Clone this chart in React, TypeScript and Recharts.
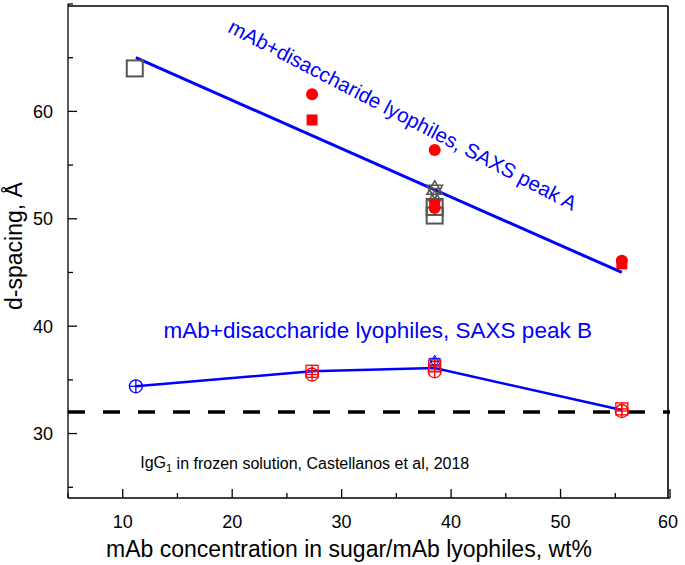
import React from "react";
import {
  ComposedChart,
  XAxis,
  YAxis,
  Scatter,
  ReferenceLine,
  ReferenceDot,
} from "recharts";

// ---- axis ticks ----
const xTicks = [5, 10, 15, 20, 25, 30, 35, 40, 45, 50, 55, 60];
const xTickLabels = [10, 20, 30, 40, 50, 60];
const yTicks = [25, 30, 35, 40, 45, 50, 55, 60, 65, 70];
const yTickLabels = [30, 40, 50, 60];
const xDomain = [5, 60];
const yDomain = [24, 70];

// ---- SAXS peak A ----
const peakAFitX = [11.2, 55.6];
const peakAFitY = [65.0, 45.0];
const openSquareX = [11.1, 38.5, 38.5];
const openSquareY = [64.0, 51.1, 50.3];
const redCircleX = [27.3, 38.5, 38.5, 55.6];
const redCircleY = [61.6, 56.4, 51.0, 46.1];
const redSquareX = [27.3, 38.5, 55.6];
const redSquareY = [59.2, 51.3, 45.8];
const grayStarX = [38.5];
const grayStarY = [52.7];
const grayTriUpX = [38.5];
const grayTriUpY = [52.0];
const grayTriDownX = [38.5];
const grayTriDownY = [52.5];

// ---- SAXS peak B ----
const peakBLineX = [11.2, 27.3, 38.5, 55.6];
const peakBLineY = [34.4, 35.8, 36.1, 32.2];
const blueCirclePlusX = [11.2];
const blueCirclePlusY = [34.4];
const blueStarX = [38.5];
const blueStarY = [36.7];
const redSquarePlusX = [27.3, 38.5, 55.6];
const redSquarePlusY = [35.8, 36.3, 32.3];
const redCirclePlusX = [27.3, 38.5, 55.6];
const redCirclePlusY = [35.5, 35.8, 32.1];

// ---- frozen solution reference ----
const frozenY = 32;

const zip = (xs: number[], ys: number[]) => xs.map((x, i) => ({ x, y: ys[i] }));

// chart layout
const W = 685;
const H = 565;
const M = { top: 4, right: 15, bottom: 0, left: 0 };
const Y_AXIS_W = 68;
const X_AXIS_H = 67;
const PLOT_W = W - M.left - M.right - Y_AXIS_W;
const PLOT_H = H - M.top - M.bottom - X_AXIS_H;
const FRAME_INSET = 2;

const FONT = "'Liberation Sans', Arial, sans-serif";
const RED = "#ff0000";
const BLUE = "#0000ff";
const GRAY = "#555555";

const Nothing = () => <g />;

const RedCircle = (p: any) => <circle cx={p.cx} cy={p.cy} r={6} fill={RED} />;
const RedSquare = (p: any) => (
  <rect x={p.cx - 5.5} y={p.cy - 5.5} width={11} height={11} fill={RED} />
);
const OpenSquare = (p: any) => (
  <rect x={p.cx - 8} y={p.cy - 8} width={16} height={16} fill="none" stroke={GRAY} strokeWidth={2} />
);
const triPts = (cx: number, cy: number, r: number, up: boolean) => {
  const s = up ? -1 : 1;
  return [
    [cx, cy + s * r],
    [cx - r * 0.866, cy - s * r * 0.5],
    [cx + r * 0.866, cy - s * r * 0.5],
  ]
    .map((q) => q.join(","))
    .join(" ");
};
const GrayStar = (p: any) => (
  <g fill="none" stroke={GRAY} strokeWidth={1.5}>
    <polygon points={triPts(p.cx, p.cy, 9, true)} />
    <polygon points={triPts(p.cx, p.cy, 9, false)} />
  </g>
);
const GrayTriUp = (p: any) => (
  <polygon points={triPts(p.cx, p.cy, 7, true)} fill="none" stroke={GRAY} strokeWidth={1.5} />
);
const GrayTriDown = (p: any) => (
  <polygon points={triPts(p.cx, p.cy, 7, false)} fill="none" stroke={GRAY} strokeWidth={1.5} />
);
const CirclePlus = (color: string) => (p: any) => (
  <g fill="none" stroke={color} strokeWidth={1.3}>
    <circle cx={p.cx} cy={p.cy} r={6.5} />
    <line x1={p.cx - 6.5} y1={p.cy} x2={p.cx + 6.5} y2={p.cy} />
    <line x1={p.cx} y1={p.cy - 6.5} x2={p.cx} y2={p.cy + 6.5} />
  </g>
);
const SquarePlus = (color: string) => (p: any) => (
  <g fill="none" stroke={color} strokeWidth={1.3}>
    <rect x={p.cx - 6} y={p.cy - 6} width={12} height={12} />
    <line x1={p.cx - 6} y1={p.cy} x2={p.cx + 6} y2={p.cy} />
    <line x1={p.cx} y1={p.cy - 6} x2={p.cx} y2={p.cy + 6} />
  </g>
);
const BlueStar = (p: any) => (
  <g fill="none" stroke={BLUE} strokeWidth={1}>
    <polygon points={triPts(p.cx, p.cy, 6.5, true)} />
    <polygon points={triPts(p.cx, p.cy, 6.5, false)} />
    <line x1={p.cx - 5} y1={p.cy} x2={p.cx + 5} y2={p.cy} />
    <line x1={p.cx} y1={p.cy - 5} x2={p.cx} y2={p.cy + 5} />
  </g>
);

const XTick = (props: any) => {
  const { x, y, payload } = props;
  const major = xTickLabels.includes(payload.value);
  const isEnd = Number(payload.value) === xDomain[1];
  return (
    <g>
      <line x1={x} y1={y} x2={x} y2={y - (major ? 9 : 5)} stroke="#000" strokeWidth={1.3} />
      {isEnd && (
        <path
          d={`M${x - FRAME_INSET},${y}L${x - FRAME_INSET},${y - PLOT_H + FRAME_INSET}`}
          stroke="#000"
          strokeWidth={1.6}
          fill="none"
        />
      )}
      {major && (
        <text x={x - FRAME_INSET * (isEnd ? 1 : 0)} y={y + 30} textAnchor="middle" fontFamily={FONT} fontSize={18} fill="#000">
          {payload.value}
        </text>
      )}
    </g>
  );
};

const YTick = (props: any) => {
  const { x, y, payload } = props;
  const major = yTickLabels.includes(payload.value);
  const isEnd = Number(payload.value) === yDomain[1];
  return (
    <g>
      <line x1={x} y1={y} x2={x + (major ? 9 : 5)} y2={y} stroke="#000" strokeWidth={1.3} />
      {isEnd && (
        <path
          d={`M${x},${y + FRAME_INSET}L${x + PLOT_W - FRAME_INSET},${y + FRAME_INSET}`}
          stroke="#000"
          strokeWidth={1.6}
          fill="none"
        />
      )}
      {major && (
        <text x={x - 15} y={y + 6.5} textAnchor="end" fontFamily={FONT} fontSize={18} fill="#000">
          {payload.value}
        </text>
      )}
    </g>
  );
};

const XTitle = (props: any) => {
  const vb = props.viewBox;
  return (
    <text x={vb.x + vb.width / 2 - 20} y={557} textAnchor="middle" fontFamily={FONT} fontSize={23} fill="#000">
      mAb concentration in sugar/mAb lyophiles, wt%
    </text>
  );
};

const YTitle = (props: any) => {
  const vb = props.viewBox;
  const cy = vb.y + vb.height / 2 - 5;
  return (
    <text
      x={22}
      y={cy}
      transform={`rotate(-90, 22, ${cy})`}
      textAnchor="middle"
      fontFamily={FONT}
      fontSize={23}
      fill="#000"
    >
      d-spacing, Å
    </text>
  );
};

const PeakALabel = (p: any) => (
  <text
    x={p.cx}
    y={p.cy}
    transform={`rotate(27.5, ${p.cx}, ${p.cy})`}
    textAnchor="middle"
    dominantBaseline="central"
    fontFamily={FONT}
    fontSize={20.5}
    fill={BLUE}
  >
    mAb+disaccharide lyophiles, SAXS peak A
  </text>
);

const PeakBLabel = (p: any) => (
  <text x={p.cx} y={p.cy} textAnchor="middle" dominantBaseline="central" fontFamily={FONT} fontSize={22.5} fill={BLUE}>
    mAb+disaccharide lyophiles, SAXS peak B
  </text>
);

const FrozenLabel = (p: any) => (
  <text x={p.cx} y={p.cy} dominantBaseline="central" fontFamily={FONT} fontSize={16} fill="#000">
    IgG
    <tspan fontSize={11} dy={5}>1</tspan>
    <tspan dy={-5}> in frozen solution, Castellanos et al, 2018</tspan>
  </text>
);

export default function App() {
  return (
    <div style={{ position: "absolute", left: 0, top: 0, background: "#fff" }}>
      <ComposedChart width={W} height={H} margin={M} style={{ fontFamily: FONT }}>
        <XAxis
          type="number"
          dataKey="x"
          domain={xDomain}
          ticks={xTicks}
          interval={0}
          allowDataOverflow
          height={X_AXIS_H}
          tickSize={0}
          tickMargin={0}
          tickLine={false}
          tick={<XTick />}
          axisLine={{ stroke: "#000", strokeWidth: 1.3 }}
          label={<XTitle />}
        />
        <YAxis
          type="number"
          dataKey="y"
          domain={yDomain}
          ticks={yTicks}
          interval={0}
          allowDataOverflow
          width={Y_AXIS_W}
          tickSize={0}
          tickMargin={0}
          tickLine={false}
          tick={<YTick />}
          axisLine={{ stroke: "#000", strokeWidth: 1.3 }}
          label={<YTitle />}
        />

        <ReferenceLine y={frozenY} stroke="#000" strokeWidth={3.5} strokeDasharray="17 18" />

        <Scatter data={zip(peakAFitX, peakAFitY)} line={{ stroke: BLUE, strokeWidth: 3 }} shape={<Nothing />} isAnimationActive={false} />
        <Scatter data={zip(peakBLineX, peakBLineY)} line={{ stroke: BLUE, strokeWidth: 2.5 }} shape={<Nothing />} isAnimationActive={false} />

        <Scatter data={zip(openSquareX, openSquareY)} shape={<OpenSquare />} isAnimationActive={false} />
        <Scatter data={zip(grayTriUpX, grayTriUpY)} shape={<GrayTriUp />} isAnimationActive={false} />
        <Scatter data={zip(grayTriDownX, grayTriDownY)} shape={<GrayTriDown />} isAnimationActive={false} />
        <Scatter data={zip(grayStarX, grayStarY)} shape={<GrayStar />} isAnimationActive={false} />
        <Scatter data={zip(redCircleX, redCircleY)} shape={<RedCircle />} isAnimationActive={false} />
        <Scatter data={zip(redSquareX, redSquareY)} shape={<RedSquare />} isAnimationActive={false} />

        <Scatter data={zip(blueCirclePlusX, blueCirclePlusY)} shape={CirclePlus(BLUE)} isAnimationActive={false} />
        <Scatter data={zip(blueStarX, blueStarY)} shape={<BlueStar />} isAnimationActive={false} />
        <Scatter data={zip(redCirclePlusX, redCirclePlusY)} shape={CirclePlus(RED)} isAnimationActive={false} />
        <Scatter data={zip(redSquarePlusX, redSquarePlusY)} shape={SquarePlus(RED)} isAnimationActive={false} />

        <ReferenceDot x={35.6} y={59.7} r={0} shape={PeakALabel} ifOverflow="visible" />
        <ReferenceDot x={33.3} y={39.6} r={0} shape={PeakBLabel} ifOverflow="visible" />
        <ReferenceDot x={11.6} y={27.3} r={0} shape={FrozenLabel} ifOverflow="visible" />
      </ComposedChart>
    </div>
  );
}
